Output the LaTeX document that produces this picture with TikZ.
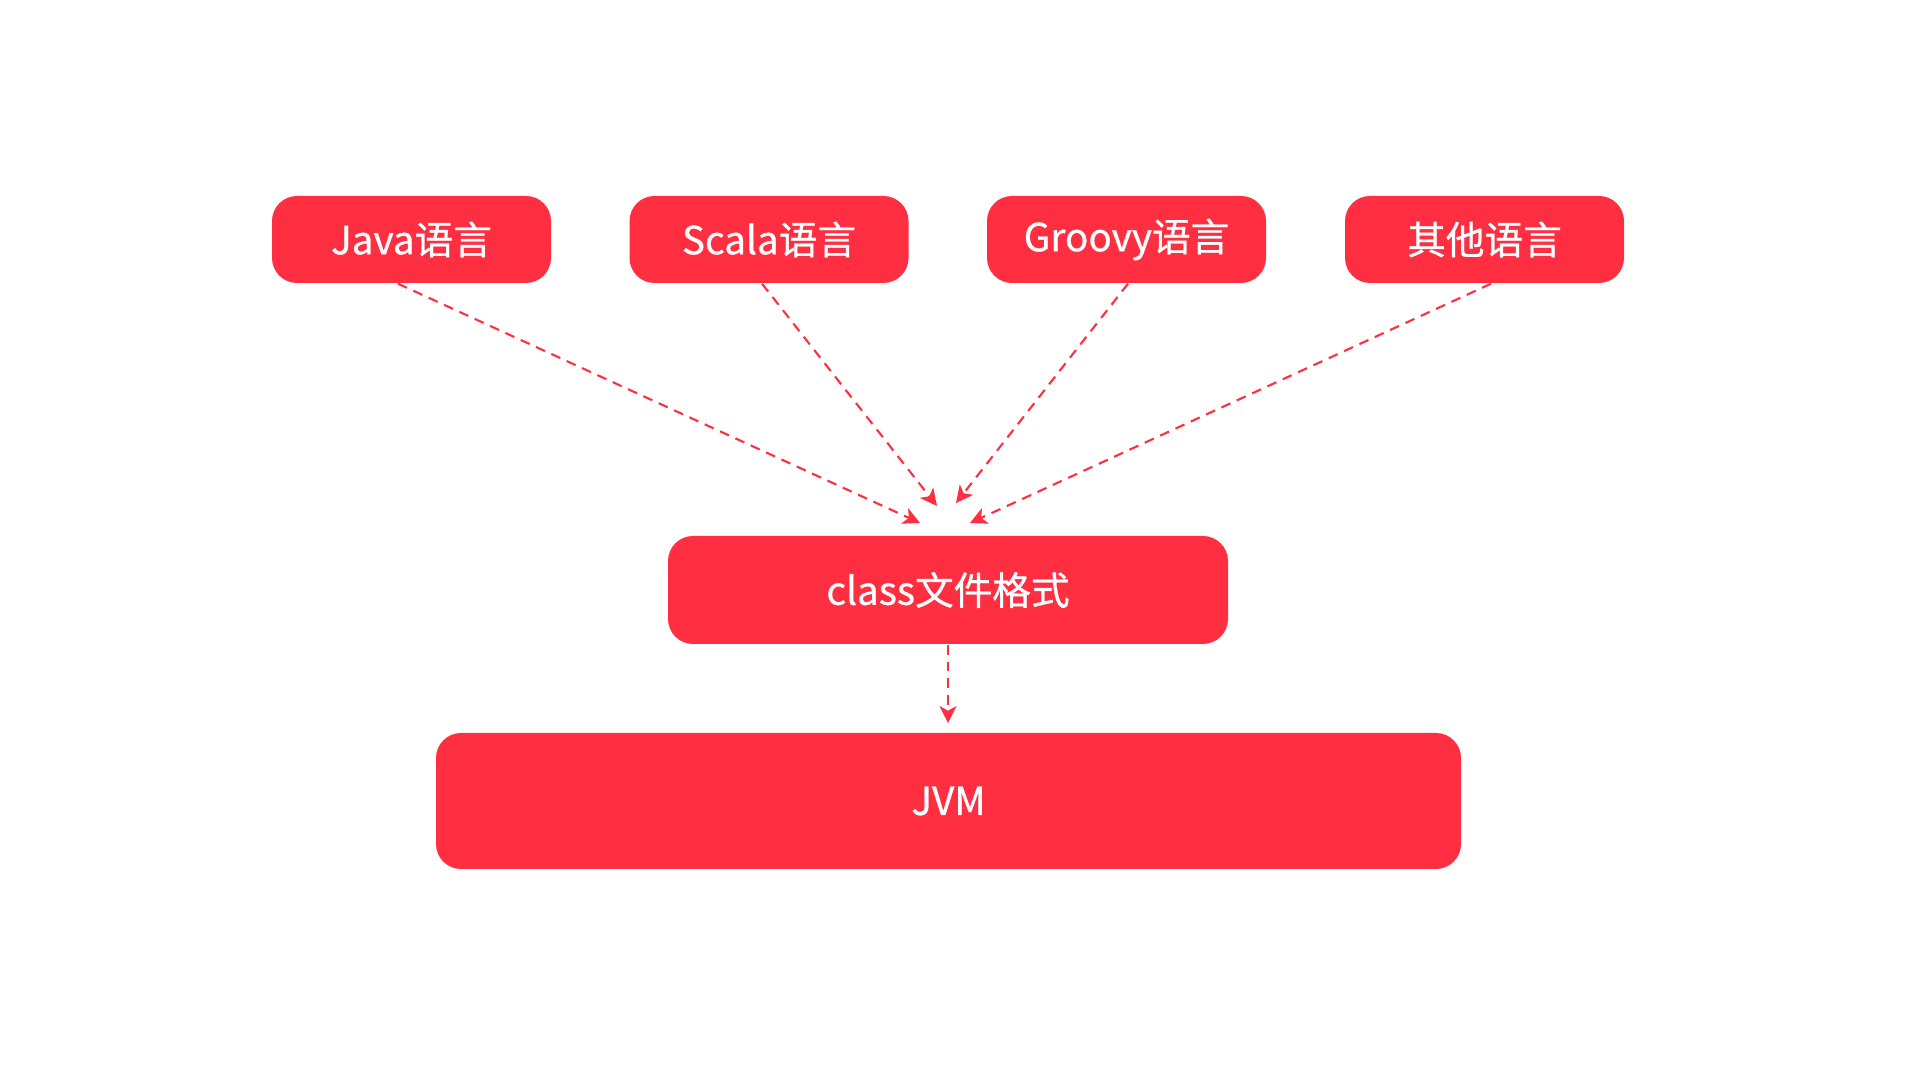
\documentclass[tikz,border=0pt]{standalone}
\usepackage{fontspec}
\setmainfont{Noto Sans CJK SC}
\newfontfamily\boxfont[FakeBold=0.7]{Noto Sans CJK SC}
\usetikzlibrary{arrows.meta}
\definecolor{jvmred}{RGB}{255,46,64}
\tikzset{
	langbox/.style={fill=jvmred, text=white, rounded corners=0.25cm, inner sep=0pt,
		minimum width=2.79cm, minimum height=0.87cm, font=\boxfont\fontsize{11}{13}\selectfont},
	flow/.style={jvmred, line width=0.6pt, dash pattern=on 2.8pt off 2pt,
		-{Stealth[length=4.8pt,width=4.8pt,inset=1.3pt]}}
}
\begin{document}
\begin{tikzpicture}
	\useasboundingbox (0,0) rectangle (19.2,10.8);
	% languages
	\node[langbox] (java)   at (4.115,8.405)  {Java语言};
	\node[langbox] (scala)  at (7.69,8.405)   {Scala语言};
	\node[langbox] (groovy) at (11.265,8.405) {Groovy语言};
	\node[langbox] (other)  at (14.845,8.405) {其他语言};
	% class file and JVM
	\node[langbox, minimum width=5.6cm, minimum height=1.08cm] (class) at (9.48,4.9) {class文件格式};
	\node[langbox, minimum width=10.25cm, minimum height=1.36cm] (jvm) at (9.485,2.79) {JVM};
	% arrow tips above the class box
	\coordinate (tipjava)   at (9.20,5.57);
	\coordinate (tipscala)  at (9.37,5.74);
	\coordinate (tipgroovy) at (9.56,5.77);
	\coordinate (tipother)  at (9.70,5.57);
	\coordinate (tipjvm)    at (9.48,3.57);
	\draw[flow] ([xshift=-0.135cm]java.south) -- (tipjava);
	\draw[flow] ([xshift=-0.07cm]scala.south) -- (tipscala);
	\draw[flow] ([xshift=0.015cm]groovy.south) -- (tipgroovy);
	\draw[flow] ([xshift=0.065cm]other.south) -- (tipother);
	\draw[flow] (class.south) -- (tipjvm);
\end{tikzpicture}
\end{document}
